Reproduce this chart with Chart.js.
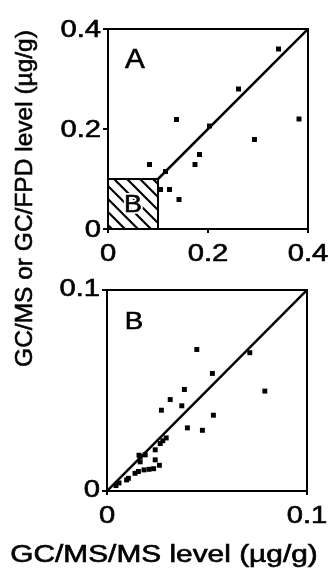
<!DOCTYPE html>
<html>
<head>
<meta charset="utf-8">
<script src="https://cdn.jsdelivr.net/npm/chart.js@4.4.1/dist/chart.umd.min.js"></script>
<style>
  html, body { margin: 0; padding: 0; background: #fff; }
  #wrap { position: relative; width: 328px; height: 569px; overflow: hidden; }
  #chartA { position: absolute; left: 0; top: 0; }
  #chartB { position: absolute; left: 0; top: 270px; }
</style>
</head>
<body>
<div id="wrap">
  <canvas id="chartA" width="328" height="380"></canvas>
  <canvas id="chartB" width="328" height="299"></canvas>
</div>
<script>
// panel A - GC/MS/MS level (x) against GC/MS or GC/FPD level (y), ug/g
const msmsA  = [0.341, 0.261, 0.137, 0.382, 0.203, 0.293, 0.183, 0.174, 0.083, 0.115, 0.105, 0.123, 0.142];
const otherA = [0.360, 0.280, 0.219, 0.220, 0.206, 0.179, 0.149, 0.129, 0.129, 0.115, 0.079, 0.079, 0.059];
const lineA = [0.1, 0.4];
const ticksA = [0, 0.2, 0.4];
const tickLabelsA = ['0', '0.2', '0.4'];
const zoomBox = [0, 0.1];   // area blown up in panel B

// panel B - low range
const msmsB  = [0.0449, 0.0714, 0.0527, 0.0789, 0.0387, 0.0316, 0.0374, 0.0272, 0.0532, 0.0402,
                0.0477, 0.0296, 0.0279, 0.0266, 0.0241, 0.0191, 0.0166, 0.0160, 0.0166, 0.0241,
                0.0262, 0.0233, 0.0210, 0.0185, 0.0157, 0.0140, 0.0107, 0.0098, 0.0060, 0.0045];
const otherB = [0.0704, 0.0688, 0.0585, 0.0497, 0.0505, 0.0455, 0.0424, 0.0402, 0.0377, 0.0314,
                0.0302, 0.0264, 0.0250, 0.0236, 0.0205, 0.0180, 0.0170, 0.0178, 0.0145, 0.0155,
                0.0128, 0.0111, 0.0108, 0.0105, 0.0097, 0.0088, 0.0063, 0.0055, 0.0040, 0.0027];
const lineB = [0, 0.1];
const ticksB = [0, 0.1];
const tickLabelsB = ['0', '0.1'];

const FONT = "'Liberation Sans', Arial, sans-serif";
const SX = 1.27; // the figure's lettering is wide

function wideText(ctx, text, x, y, size, sx, align) {
  ctx.save();
  ctx.font = size + 'px ' + FONT;
  ctx.textAlign = align || 'center';
  ctx.textBaseline = 'alphabetic';
  ctx.fillStyle = '#000';
  ctx.strokeStyle = '#000';
  ctx.lineWidth = 0.6;
  ctx.translate(x, y);
  ctx.scale(sx, 1);
  ctx.fillText(text, 0, 0);
  ctx.strokeText(text, 0, 0);
  ctx.restore();
}

function makeDeco(cfg) {
  return {
    id: 'deco',
    beforeDatasetsDraw(chart) {
      if (!cfg.box) return;
      const {ctx, scales: {x, y}} = chart;
      const x0 = x.getPixelForValue(cfg.box[0]), x1 = x.getPixelForValue(cfg.box[1]);
      const y0 = y.getPixelForValue(cfg.box[1]), y1 = y.getPixelForValue(cfg.box[0]);
      const h = y1 - y0;
      ctx.save();
      ctx.beginPath();
      ctx.rect(x0, y0, x1 - x0, h);
      ctx.clip();
      ctx.strokeStyle = '#000';
      ctx.lineWidth = 2.2;
      for (let s = x0 - h + 4; s < x1; s += 13) {
        ctx.beginPath();
        ctx.moveTo(s, y0);
        ctx.lineTo(s + h, y1);
        ctx.stroke();
      }
      ctx.restore();
      ctx.save();
      ctx.strokeStyle = '#000';
      ctx.lineWidth = 2;
      ctx.strokeRect(x0, y0, x1 - x0, h);
      // letter on a white halo
      const cx = (x0 + x1) / 2, cy = (y0 + y1) / 2;
      ctx.translate(cx, cy + 8.3);
      ctx.scale(1.17, 1);
      ctx.font = '23px ' + FONT;
      ctx.textAlign = 'center';
      ctx.lineWidth = 4;
      ctx.strokeStyle = '#fff';
      ctx.strokeText(cfg.boxLetter, 0, 0);
      ctx.fillStyle = '#000';
      ctx.fillText(cfg.boxLetter, 0, 0);
      ctx.lineWidth = 0.6;
      ctx.strokeStyle = '#000';
      ctx.strokeText(cfg.boxLetter, 0, 0);
      ctx.restore();
    },
    afterDatasetsDraw(chart) {
      const {ctx, chartArea: a, scales: {x, y}} = chart;
      ctx.save();
      ctx.strokeStyle = '#000';
      ctx.lineWidth = 2;
      ctx.strokeRect(a.left, a.top, a.width, a.height);
      ctx.beginPath();
      cfg.ticks.forEach(v => {
        const py = y.getPixelForValue(v);
        ctx.moveTo(a.left - 5, py);
        ctx.lineTo(a.left, py);
        const px = x.getPixelForValue(v);
        ctx.moveTo(px, a.bottom);
        ctx.lineTo(px, a.bottom + 4);
      });
      ctx.stroke();
      ctx.restore();

      cfg.ticks.forEach((v, i) => {
        wideText(ctx, cfg.labels[i], a.left - 7, y.getPixelForValue(v) + cfg.yBase, 23, SX, 'right');
        wideText(ctx, cfg.labels[i], x.getPixelForValue(v), a.bottom + 32, 23, SX, 'center');
      });

      wideText(ctx, cfg.letter, a.left + 27, a.top + cfg.letterBase, cfg.letterSize, cfg.letterSx, 'center');

      if (cfg.yTitle) {
        ctx.save();
        ctx.translate(31.5, 198.5);
        ctx.rotate(-Math.PI / 2);
        ctx.font = '24.5px ' + FONT;
        ctx.textAlign = 'center';
        ctx.textBaseline = 'alphabetic';
        ctx.fillStyle = '#000';
        ctx.strokeStyle = '#000';
        ctx.lineWidth = 0.6;
        ctx.fillText(cfg.yTitle, 0, 0);
        ctx.strokeText(cfg.yTitle, 0, 0);
        ctx.restore();
      }
      if (cfg.xTitle) {
        wideText(ctx, cfg.xTitle, 164, 292, 23.5, SX, 'center');
      }
    }
  };
}

function makeChart(el, pts, line, max, step, padding, deco) {
  return new Chart(el, {
    type: 'scatter',
    data: {
      datasets: [{
        data: pts,
        pointStyle: 'rect',
        pointRadius: 3.5,
        pointBorderWidth: 0,
        backgroundColor: '#000',
        borderColor: '#000'
      }, {
        data: line.map(v => ({x: v, y: v})),
        showLine: true,
        pointRadius: 0,
        borderColor: '#000',
        borderWidth: 2.5
      }]
    },
    options: {
      responsive: false,
      animation: false,
      layout: { padding: padding },
      scales: {
        x: { type: 'linear', min: 0, max: max, display: false, ticks: { stepSize: step } },
        y: { type: 'linear', min: 0, max: max, display: false, ticks: { stepSize: step } }
      },
      plugins: { legend: { display: false }, tooltip: { enabled: false } },
      events: []
    },
    plugins: [makeDeco(deco)]
  });
}

makeChart(document.getElementById('chartA'),
  msmsA.map((v, i) => ({x: v, y: otherA[i]})), lineA, 0.4, 0.2,
  {left: 108, right: 20, top: 29, bottom: 151},
  {ticks: ticksA, labels: tickLabelsA, yBase: 8, letter: 'A', letterSize: 27, letterSx: 1.1,
   letterBase: 39, box: zoomBox, boxLetter: 'B', yTitle: 'GC/MS or GC/FPD level (µg/g)'});

makeChart(document.getElementById('chartB'),
  msmsB.map((v, i) => ({x: v, y: otherB[i]})), lineB, 0.1, 0.1,
  {left: 107, right: 21, top: 20, bottom: 78},
  {ticks: ticksB, labels: tickLabelsB, yBase: 6, letter: 'B', letterSize: 24, letterSx: 1.15,
   letterBase: 38.6, xTitle: 'GC/MS/MS level (µg/g)'});
</script>
</body>
</html>
